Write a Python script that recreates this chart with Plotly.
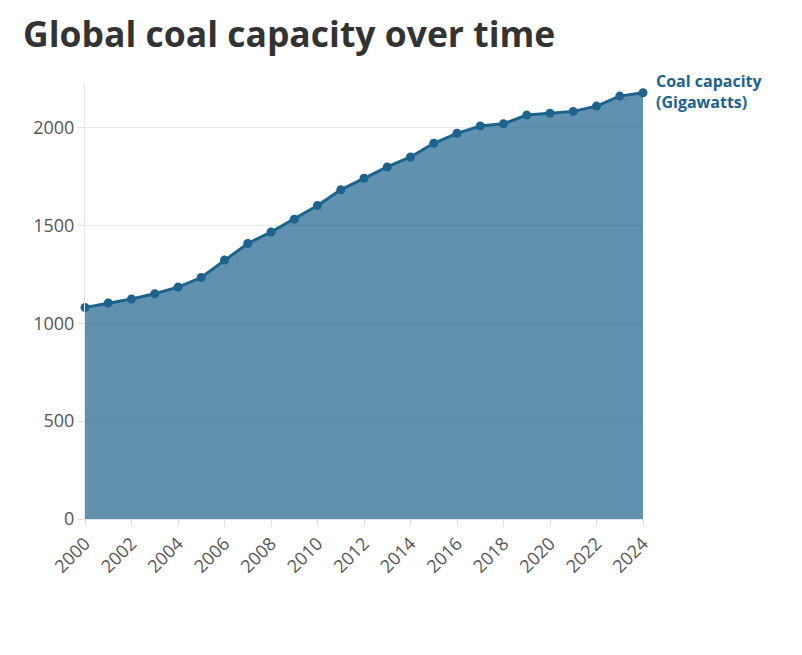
import plotly.graph_objects as go

years = list(range(2000, 2025))
capacity_gw = [1081, 1104, 1124, 1151, 1185, 1234, 1323, 1408, 1466, 1532, 1602, 1682,
               1741, 1799, 1850, 1920, 1971, 2008, 2020, 2064, 2074, 2083, 2110, 2161, 2178]
x_ticks = list(range(2000, 2025, 2))
y_ticks = [0, 500, 1000, 1500, 2000]
series_label = "Coal capacity<br>(Gigawatts)"
title_text = "Global coal capacity over time"

line_color = "#1d638d"
fill_color = "rgba(29,99,141,0.70)"

fig = go.Figure()
fig.add_trace(go.Scatter(
    x=years, y=capacity_gw, mode="lines+markers",
    fill="tozeroy", fillcolor=fill_color,
    line=dict(color=line_color, width=3),
    marker=dict(color=line_color, size=9),
    cliponaxis=False, showlegend=False,
))

fig.add_annotation(
    x=years[-1], y=capacity_gw[-1], xref="x", yref="y",
    text=series_label, showarrow=False, xanchor="left", yanchor="middle",
    xshift=11, yshift=1, align="left",
    font=dict(family="Open Sans", size=16, color=line_color, weight=700),
)

fig.update_layout(
    width=802, height=655,
    margin=dict(l=85, r=159, t=83, b=136),
    paper_bgcolor="white", plot_bgcolor="white",
    title=dict(text=title_text, x=23/802, xanchor="left", xref="container",
               y=1 - 35/655, yanchor="middle", yref="container",
               font=dict(family="Open Sans", size=35.5, color="#333333", weight=700)),
    font=dict(family="Open Sans", color="#555555"),
    xaxis=dict(range=[2000, 2024], tickvals=x_ticks, tickangle=-45,
               showgrid=False, zeroline=False, showline=True, linecolor="#e6e6e6",
               ticks="outside", ticklen=6, tickcolor="#e0e0e0",
               tickfont=dict(size=18, color="#555555")),
    yaxis=dict(range=[0, 2228], tickvals=y_ticks, showgrid=True, gridcolor="#ebebeb",
               zeroline=False, showline=True, linecolor="#e6e6e6",
               ticks="outside", ticklen=6, tickcolor="#e0e0e0",
               tickfont=dict(size=18, color="#555555")),
)

fig.write_html("out.html")
